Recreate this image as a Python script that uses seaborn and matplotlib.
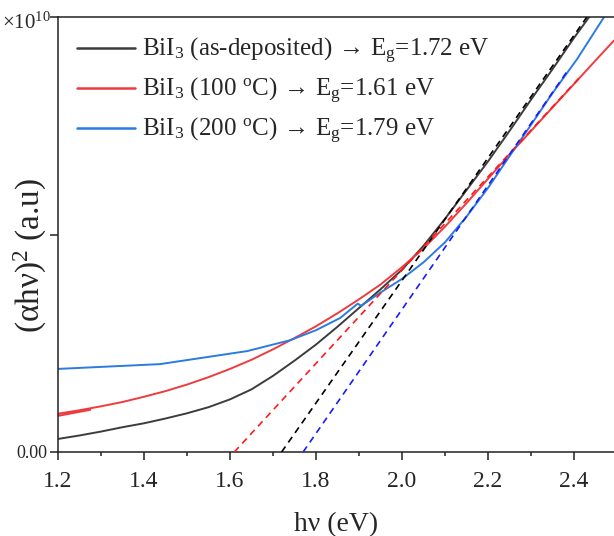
import numpy as np
import pandas as pd
import matplotlib
matplotlib.use("Agg")
import matplotlib.pyplot as plt
import seaborn as sns

# Photon energy (eV) and (alpha*h*nu)^2 in units of 1e10
hv_asdep = [1.20, 1.25, 1.30, 1.35, 1.40, 1.45, 1.50, 1.55, 1.60, 1.65, 1.70, 1.75,
            1.80, 1.85, 1.90, 1.95, 2.00, 2.05, 2.10, 2.15, 2.20, 2.25, 2.30, 2.35,
            2.40, 2.45]
y_asdep = [0.030, 0.038, 0.047, 0.057, 0.066, 0.077, 0.089, 0.103, 0.121, 0.144,
           0.175, 0.210, 0.247, 0.288, 0.331, 0.374, 0.419, 0.474, 0.536, 0.602,
           0.668, 0.738, 0.810, 0.880, 0.952, 1.020]

hv_100 = [1.275, 1.20, 1.20, 1.25, 1.30, 1.35, 1.40, 1.45, 1.50, 1.55, 1.60, 1.65,
          1.70, 1.75, 1.80, 1.85, 1.90, 1.95, 2.00, 2.05, 2.10, 2.15, 2.20, 2.25,
          2.30, 2.35, 2.40, 2.45, 2.493]
y_100 = [0.097, 0.083, 0.088, 0.096, 0.105, 0.115, 0.127, 0.140, 0.155, 0.172,
         0.191, 0.212, 0.236, 0.262, 0.289, 0.319, 0.351, 0.385, 0.425, 0.468,
         0.518, 0.572, 0.628, 0.684, 0.738, 0.792, 0.846, 0.900, 0.946]

hv_200 = [1.20, 1.437, 1.640, 1.740, 1.800, 1.856, 1.897, 1.905, 1.949, 2.00,
          2.05, 2.10, 2.15, 2.20, 2.25, 2.30, 2.35, 2.407, 2.470, 2.500]
y_200 = [0.191, 0.202, 0.232, 0.257, 0.280, 0.308, 0.341, 0.336, 0.366, 0.398,
         0.436, 0.482, 0.541, 0.607, 0.680, 0.752, 0.825, 0.903, 1.000, 1.045]

# Linear (Tauc) extrapolations: start at the band-gap intercept, end on the curve
fit_start_hv = [1.72, 1.61, 1.77]
fit_end_hv = [2.430, 2.414, 2.384]
fit_end_y = [1.000, 0.862, 0.875]

arrow = r"$\!\rightarrow\!$"
labels = [
    r"BiI$_{3}$ (as-deposited) " + arrow + r" E$_{\mathrm{g}}$=1.72 eV",
    r"BiI$_{3}$ (100 $^{\mathrm{o}}$C) " + arrow + r" E$_{\mathrm{g}}$=1.61 eV",
    r"BiI$_{3}$ (200 $^{\mathrm{o}}$C) " + arrow + r" E$_{\mathrm{g}}$=1.79 eV",
]
line_colors = ["#3c3c3c", "#ef3b3e", "#2b7be0"]
fit_colors = ["#000000", "#ff1a1a", "#1a1aff"]

sns.set_theme(style="ticks")
plt.rcParams["font.family"] = ["Liberation Serif", "DejaVu Serif"]
plt.rcParams["mathtext.fontset"] = "custom"
plt.rcParams["mathtext.rm"] = "Liberation Serif"
plt.rcParams["mathtext.it"] = "Liberation Serif:italic"
plt.rcParams["mathtext.bf"] = "Liberation Serif:bold"

fig = plt.figure(figsize=(6.14, 5.36), dpi=100)
ax = fig.add_axes([58 / 614, 1 - 452 / 536, (614 - 58) / 614, 435 / 536])

series = [(hv_asdep, y_asdep), (hv_100, y_100), (hv_200, y_200)]
for (xs, ys), lab, col in zip(series, labels, line_colors):
    df = pd.DataFrame({"hv": xs, "val": ys})
    sns.lineplot(data=df, x="hv", y="val", sort=False, estimator=None,
                 color=col, lw=1.4, label=lab, ax=ax)

for x0, x1, y1, col in zip(fit_start_hv, fit_end_hv, fit_end_y, fit_colors):
    df = pd.DataFrame({"hv": [x0, x1], "val": [0.0, y1]})
    sns.lineplot(data=df, x="hv", y="val", sort=False, estimator=None,
                 color=col, lw=1.2, ax=ax, legend=False, zorder=3)
for ln in ax.lines[3:]:
    ln.set_dashes([4, 3])

ax.set_xlim(1.2, 1.2 + (614 - 58) / 430)
ax.set_ylim(0, 1.0)
ax.set_xticks([1.2, 1.4, 1.6, 1.8, 2.0, 2.2, 2.4])
ax.set_xticks(np.arange(1.3, 2.5, 0.2), minor=True)
ax.set_xticklabels(["1.2", "1.4", "1.6", "1.8", "2.0", "2.2", "2.4"], fontsize=17)
ax.set_yticks([0.0, 0.5, 1.0])
ax.set_yticklabels(["0.00", "", ""], fontsize=13)
ax.tick_params(axis="both", which="major", direction="out", length=6, width=1.1,
               color="#222222")
ax.tick_params(axis="x", which="minor", direction="out", length=3, width=1.1,
               color="#222222")
ax.tick_params(axis="x", which="major", pad=8)
ax.tick_params(axis="y", which="major", pad=2)

for side in ["left", "bottom", "top"]:
    ax.spines[side].set_visible(True)
    ax.spines[side].set_linewidth(1.1)
    ax.spines[side].set_color("#222222")
ax.spines["right"].set_visible(False)

ax.set_xlabel("hν (eV)", fontsize=20, labelpad=14)
ax.set_ylabel(r"(αhν)$^{2}$ (a.u)", fontsize=24)
ax.yaxis.set_label_coords(-0.017, 0.453)

fig.text(2 / 614, 1 - 29 / 536, r"×10$^{10}$", fontsize=15, ha="left",
         va="baseline")

leg = ax.legend(loc="upper left", bbox_to_anchor=(77 / 614, 1 - 36 / 536),
                bbox_transform=fig.transFigure, frameon=False, fontsize=18,
                handlelength=2.3, handletextpad=0.3, labelspacing=0.4,
                borderpad=0, borderaxespad=0)
for h in leg.get_lines():
    h.set_linewidth(1.8)

fig.savefig("out.png", dpi=100)
